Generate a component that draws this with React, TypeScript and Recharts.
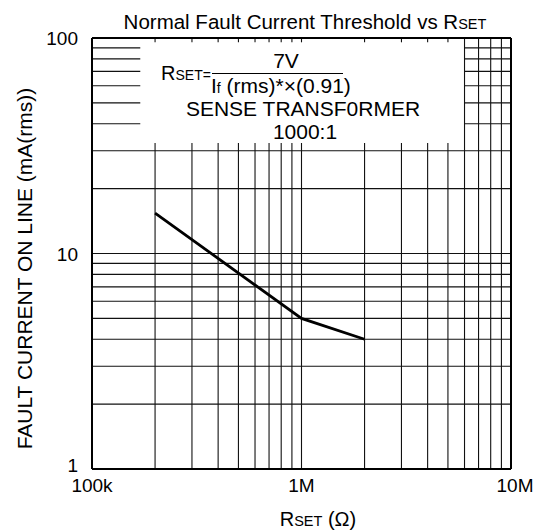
import React from 'react';
import { LineChart, Line, XAxis, YAxis, ReferenceLine, Customized } from 'recharts';

// ---- data ----
const rsetOhms = [200000, 1000000, 2000000];
const faultCurrentMa = [15.4, 5, 4];

const xTicks = [100000, 1000000, 10000000];
const xTickLabels = ['100k', '1M', '10M'];
const yTicks = [1, 10, 100];
const yTickLabels = ['1', '10', '100'];

// grid values (axis units)
const fullWidthGridY = [2, 3, 4, 5, 6, 7, 8, 9, 10, 20, 30];
const upperGridY = [40, 50, 60, 70, 80, 90];
const midGridX = [200000, 300000, 400000, 500000, 600000, 700000, 800000, 900000, 1000000, 2000000, 3000000, 4000000, 5000000];
const rightGridX = [6000000, 7000000, 8000000, 9000000];

const X_MIN = 100000;
const X_MAX = 10000000;
const Y_MIN = 1;
const Y_MAX = 100;
const LEFT_PANEL_END = 170000;
const RIGHT_PANEL_START = 6000000;
const MID_GRID_TOP = 32.6;
const TOP_TICK_END = 95.5;

const chartData = rsetOhms.map((x, i) => ({ x, y: faultCurrentMa[i] }));

const FONT = '"Liberation Sans", Arial, Helvetica, sans-serif';
const GRID = '#111';

const XTick = (props: any) => {
  const { x, y, index } = props;
  const dx = index === xTickLabels.length - 1 ? 4 : 0;
  return (
    <text x={x + dx} y={y + 21} textAnchor="middle" fontSize={19} fontFamily={FONT} fill="#000">
      {xTickLabels[index]}
    </text>
  );
};

const YTick = (props: any) => {
  const { x, y, index } = props;
  const dy = index === 0 ? 3 : 7;
  return (
    <text x={x - 12} y={y + dy} textAnchor="end" fontSize={19} fontFamily={FONT} fill="#000">
      {yTickLabels[index]}
    </text>
  );
};

const Annotations = () => (
  <g fontFamily={FONT} fill="#000">
    <text x={305} y={29} textAnchor="middle" fontSize={20.5}>
      Normal Fault Current Threshold vs R<tspan fontSize={14.5}>SET</tspan>
    </text>
    <text
      transform="translate(32, 268.5) rotate(-90)"
      x={0}
      y={0}
      textAnchor="middle"
      fontSize={21}
    >
      FAULT CURRENT ON LINE (mA(rms))
    </text>
    <text x={318} y={526} textAnchor="middle" fontSize={20}>
      R<tspan fontSize={14.5}>SET</tspan> (Ω)
    </text>
    <text x={161} y={80} fontSize={20}>
      R<tspan fontSize={14}>SET=</tspan>
    </text>
    <text x={286} y={68} textAnchor="middle" fontSize={21}>7V</text>
    <line x1={212} y1={73.5} x2={343} y2={73.5} stroke="#000" strokeWidth={1} />
    <text x={211} y={93} fontSize={21}>
      I<tspan fontSize={14}>f</tspan> (rms)*×(0.91)
    </text>
    <text x={303} y={116} textAnchor="middle" fontSize={21}>SENSE TRANSF0RMER</text>
    <text x={305} y={139} textAnchor="middle" fontSize={21}>1000:1</text>
  </g>
);

export default function App() {
  return (
    <div style={{ position: 'absolute', left: 0, top: 0, background: '#fff' }}>
      <LineChart
        width={542}
        height={532}
        data={chartData}
        margin={{ top: 38, right: 31, left: 0, bottom: 0 }}
      >
        <XAxis
          dataKey="x"
          type="number"
          scale="log"
          domain={[X_MIN, X_MAX]}
          allowDataOverflow
          ticks={xTicks}
          interval={0}
          height={63}
          axisLine={false}
          tickLine={false}
          tickSize={0}
          tick={<XTick />}
        />
        <YAxis
          dataKey="y"
          type="number"
          scale="log"
          domain={[Y_MIN, Y_MAX]}
          allowDataOverflow
          ticks={yTicks}
          interval={0}
          width={92}
          axisLine={false}
          tickLine={false}
          tickSize={0}
          tick={<YTick />}
        />

        {fullWidthGridY.map((v) => (
          <ReferenceLine
            key={'hy' + v}
            segment={[{ x: X_MIN, y: v }, { x: X_MAX, y: v }]}
            stroke={GRID}
            strokeWidth={1.1}
            ifOverflow="visible"
          />
        ))}
        {upperGridY.map((v) => (
          <ReferenceLine
            key={'hl' + v}
            segment={[{ x: X_MIN, y: v }, { x: LEFT_PANEL_END, y: v }]}
            stroke={GRID}
            strokeWidth={1.1}
            ifOverflow="visible"
          />
        ))}
        {upperGridY.map((v) => (
          <ReferenceLine
            key={'hr' + v}
            segment={[{ x: RIGHT_PANEL_START, y: v }, { x: X_MAX, y: v }]}
            stroke={GRID}
            strokeWidth={1.1}
            ifOverflow="visible"
          />
        ))}
        {midGridX.map((v) => (
          <ReferenceLine
            key={'vm' + v}
            segment={[{ x: v, y: Y_MIN }, { x: v, y: MID_GRID_TOP }]}
            stroke={GRID}
            strokeWidth={1.1}
            ifOverflow="visible"
          />
        ))}
        {midGridX.map((v) => (
          <ReferenceLine
            key={'vt' + v}
            segment={[{ x: v, y: TOP_TICK_END }, { x: v, y: Y_MAX }]}
            stroke={GRID}
            strokeWidth={1.1}
            ifOverflow="visible"
          />
        ))}
        {rightGridX.map((v) => (
          <ReferenceLine
            key={'vr' + v}
            segment={[{ x: v, y: Y_MIN }, { x: v, y: Y_MAX }]}
            stroke={GRID}
            strokeWidth={1.1}
            ifOverflow="visible"
          />
        ))}

        {/* frame */}
        <ReferenceLine segment={[{ x: X_MIN, y: Y_MIN }, { x: X_MAX, y: Y_MIN }]} stroke="#000" strokeWidth={2} ifOverflow="visible" />
        <ReferenceLine segment={[{ x: X_MIN, y: Y_MAX }, { x: X_MAX, y: Y_MAX }]} stroke="#000" strokeWidth={2} ifOverflow="visible" />
        <ReferenceLine segment={[{ x: X_MIN, y: Y_MIN }, { x: X_MIN, y: Y_MAX }]} stroke="#000" strokeWidth={2} ifOverflow="visible" />
        <ReferenceLine segment={[{ x: X_MAX, y: Y_MIN }, { x: X_MAX, y: Y_MAX }]} stroke="#000" strokeWidth={2} ifOverflow="visible" />

        <Line
          type="linear"
          dataKey="y"
          stroke="#000"
          strokeWidth={2.8}
          dot={false}
          activeDot={false}
          isAnimationActive={false}
        />
        <Customized component={Annotations} />
      </LineChart>
    </div>
  );
}
